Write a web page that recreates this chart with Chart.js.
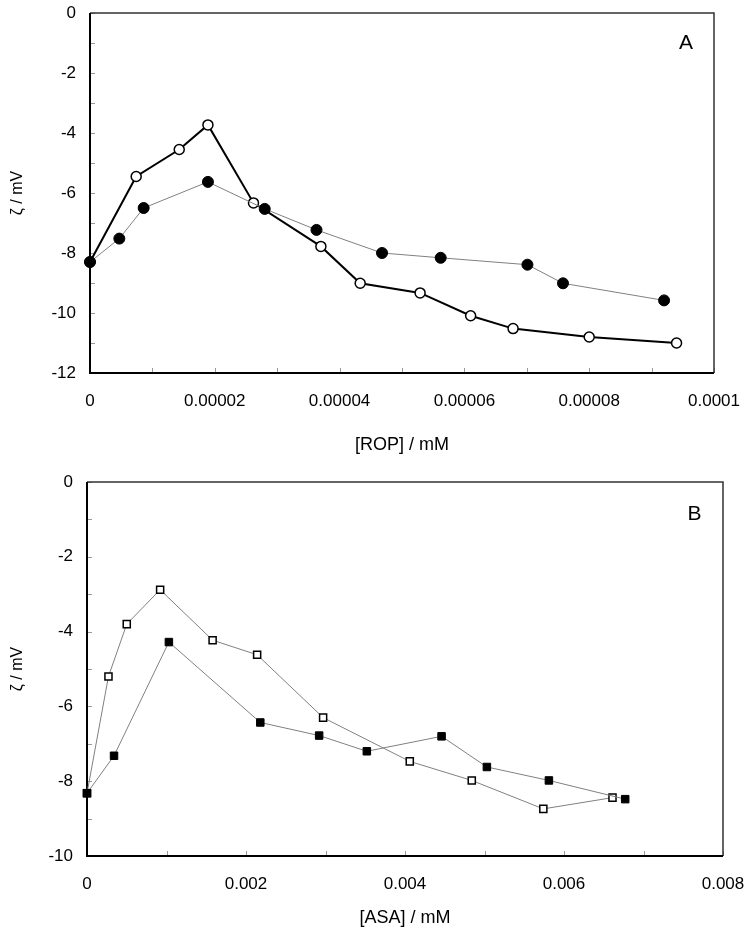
<!DOCTYPE html>
<html>
<head>
<meta charset="utf-8">
<script src="https://cdn.jsdelivr.net/npm/chart.js@4/dist/chart.umd.min.js"></script>
<style>
  html, body { margin: 0; padding: 0; background: #fff; }
  body { width: 751px; height: 935px; position: relative; overflow: hidden; }
  .box { position: absolute; left: 0; width: 751px; }
  #boxA { top: 0; height: 465px; }
  #boxB { top: 465px; height: 470px; }
</style>
</head>
<body>
<div class="box" id="boxA"><canvas id="chartA"></canvas></div>
<div class="box" id="boxB"><canvas id="chartB"></canvas></div>
<script>
// panel A : [ROP]
var ropOpenX   = [0, 0.0000074, 0.0000143, 0.0000189, 0.0000262, 0.0000370, 0.0000433, 0.0000529, 0.0000610, 0.0000678, 0.0000800, 0.0000940];
var ropOpenY   = [-8.3, -5.45, -4.55, -3.73, -6.33, -7.78, -9.01, -9.33, -10.09, -10.52, -10.8, -11.0];
var ropFilledX = [0, 0.0000047, 0.0000086, 0.0000189, 0.0000280, 0.0000363, 0.0000468, 0.0000562, 0.0000701, 0.0000758, 0.0000920];
var ropFilledY = [-8.3, -7.52, -6.5, -5.63, -6.53, -7.23, -8.0, -8.16, -8.39, -9.01, -9.58];
var ropXTicks  = ['0', '0.00002', '0.00004', '0.00006', '0.00008', '0.0001'];
var ropYTicks  = ['-12', '-10', '-8', '-6', '-4', '-2', '0'];

// panel B : [ASA]
var asaOpenX   = [0, 0.00027, 0.00050, 0.00092, 0.00158, 0.00214, 0.00297, 0.00406, 0.00484, 0.00574, 0.00661];
var asaOpenY   = [-8.32, -5.2, -3.8, -2.88, -4.23, -4.62, -6.3, -7.47, -7.98, -8.74, -8.44];
var asaFilledX = [0, 0.00034, 0.00103, 0.00218, 0.00292, 0.00352, 0.00446, 0.00503, 0.00581, 0.00677];
var asaFilledY = [-8.32, -7.32, -4.28, -6.43, -6.78, -7.2, -6.8, -7.62, -7.98, -8.48];
var asaXTicks  = ['0', '0.002', '0.004', '0.006', '0.008'];
var asaYTicks  = ['-10', '-8', '-6', '-4', '-2', '0'];

var FONT = '"Liberation Sans", Arial, sans-serif';

function pts(xs, ys) {
  return xs.map(function (x, i) { return { x: x, y: ys[i] }; });
}

// box round the plot, small inner ticks and the panel letter
var framePlugin = {
  id: 'frame',
  beforeDatasetsDraw: function (chart, args, opts) {
    var ctx = chart.ctx, a = chart.chartArea, sx = chart.scales.x, sy = chart.scales.y;
    ctx.save();
    ctx.strokeStyle = '#9a9a9a';
    ctx.lineWidth = 1;
    ctx.beginPath();
    sx.ticks.forEach(function (t) {
      var px = Math.round(sx.getPixelForValue(t.value)) + 0.5;
      ctx.moveTo(px, a.bottom); ctx.lineTo(px, a.bottom - 5);
    });
    sy.ticks.forEach(function (t) {
      var py = Math.round(sy.getPixelForValue(t.value)) + 0.5;
      ctx.moveTo(a.left, py); ctx.lineTo(a.left + 5, py);
    });
    ctx.stroke();

    ctx.strokeStyle = '#333';
    ctx.lineWidth = 1.5;
    ctx.beginPath();
    ctx.moveTo(a.left, a.top); ctx.lineTo(a.right, a.top); ctx.lineTo(a.right, a.bottom);
    ctx.stroke();
    ctx.strokeStyle = '#000';
    ctx.lineWidth = 2;
    ctx.beginPath();
    ctx.moveTo(a.left, a.top); ctx.lineTo(a.left, a.bottom); ctx.lineTo(a.right, a.bottom);
    ctx.stroke();

    ctx.fillStyle = '#000';
    ctx.font = '21px ' + FONT;
    ctx.textAlign = 'center';
    ctx.textBaseline = 'middle';
    ctx.fillText(opts.letter, sx.getPixelForValue(opts.lx), sy.getPixelForValue(opts.ly));
    ctx.restore();
  }
};

function noOverflow(s) {
  s.paddingTop = 0; s.paddingBottom = 0; s.paddingLeft = 0; s.paddingRight = 0;
}

function make_chart(canvas_id, cfg) {
  var ctx = document.getElementById(canvas_id).getContext('2d');
  return new Chart(ctx, {
    type: 'scatter',
    data: { datasets: cfg.datasets },
    options: {
      responsive: true,
      maintainAspectRatio: false,
      animation: false,
      events: [],
      layout: { padding: cfg.padding },
      plugins: {
        legend: { display: false },
        tooltip: { enabled: false },
        frame: cfg.frame
      },
      scales: {
        x: {
          type: 'linear',
          min: 0, max: cfg.xMax,
          grid: { display: false, drawTicks: false },
          border: { display: false },
          afterFit: function (s) { s.height = cfg.xHeight; noOverflow(s); },
          ticks: {
            stepSize: cfg.xStep,
            autoSkip: false, maxRotation: 0,
            padding: 18,
            color: '#000',
            font: { family: FONT, size: 17 },
            callback: function (v) {
              var n = Math.round(v / cfg.xStep);
              return n % 2 === 0 ? cfg.xTicks[n / 2] : '';
            }
          },
          title: {
            display: true, text: cfg.xTitle, color: '#000',
            font: { family: FONT, size: 18 },
            padding: { top: 0, bottom: cfg.xTitlePad }
          }
        },
        y: {
          type: 'linear',
          min: cfg.yMin, max: 0,
          grid: { display: false, drawTicks: false },
          border: { display: false },
          afterFit: function (s) { s.width = cfg.yWidth; noOverflow(s); },
          ticks: {
            stepSize: 1,
            autoSkip: false,
            padding: 14,
            color: '#000',
            font: { family: FONT, size: 17 },
            callback: function (v) {
              var n = Math.round(v - cfg.yMin);
              return n % 2 === 0 ? cfg.yTicks[n / 2] : '';
            }
          },
          title: {
            display: true, text: 'ζ / mV', color: '#000',
            font: { family: FONT, size: 16 },
            padding: { top: 8, bottom: 0 }
          }
        }
      }
    },
    plugins: [framePlugin]
  });
}

make_chart('chartA', {
  datasets: [{
    data: pts(ropFilledX, ropFilledY),
    showLine: true, clip: false,
    borderColor: '#808080', borderWidth: 1,
    pointStyle: 'circle', pointRadius: 5.5,
    pointBackgroundColor: '#000', pointBorderColor: '#000', pointBorderWidth: 1
  }, {
    data: pts(ropOpenX, ropOpenY),
    showLine: true, clip: false,
    borderColor: '#000', borderWidth: 2,
    pointStyle: 'circle', pointRadius: 5,
    pointBackgroundColor: '#fff', pointBorderColor: '#000', pointBorderWidth: 1.5
  }],
  padding: { top: 13, right: 37, left: 0, bottom: 0 },
  xMax: 0.0001, xStep: 0.00001, xTicks: ropXTicks, xTitle: '[ROP] / mM', xHeight: 92, xTitlePad: 9,
  yMin: -12, yTicks: ropYTicks, yWidth: 90,
  frame: { letter: 'A', lx: 0.0000955, ly: -1 }
});

make_chart('chartB', {
  datasets: [{
    data: pts(asaFilledX, asaFilledY),
    showLine: true, clip: false,
    borderColor: '#808080', borderWidth: 1,
    pointStyle: 'rect', pointRadius: 5.3,
    pointBackgroundColor: '#000', pointBorderColor: '#000', pointBorderWidth: 1
  }, {
    data: pts(asaOpenX, asaOpenY),
    showLine: true, clip: false,
    borderColor: '#808080', borderWidth: 1,
    pointStyle: 'rect', pointRadius: 5,
    pointBackgroundColor: '#fff', pointBorderColor: '#000', pointBorderWidth: 1.5
  }],
  padding: { top: 17, right: 28, left: 0, bottom: 0 },
  xMax: 0.008, xStep: 0.001, xTicks: asaXTicks, xTitle: '[ASA] / mM', xHeight: 79, xTitlePad: 6,
  yMin: -10, yTicks: asaYTicks, yWidth: 87,
  frame: { letter: 'B', lx: 0.00764, ly: -0.86 }
});
</script>
</body>
</html>
